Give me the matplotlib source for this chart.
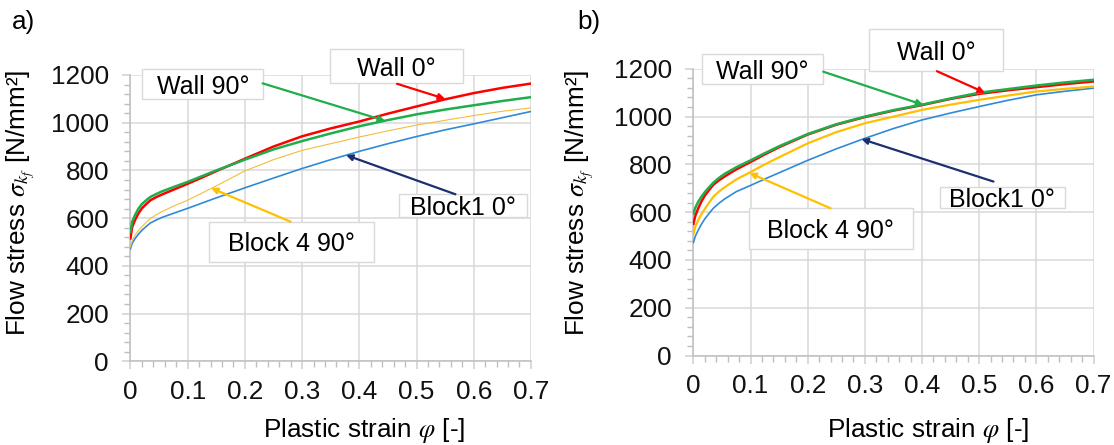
import matplotlib.pyplot as plt
from matplotlib.patches import Rectangle
from matplotlib.ticker import MultipleLocator

plt.rcParams["font.family"] = ["Liberation Sans", "DejaVu Sans"]
plt.rcParams["mathtext.fontset"] = "stix"

# Data

strain = [0, 0.003, 0.008, 0.014, 0.02, 0.028, 0.035, 0.045, 0.055, 0.075,
          0.1, 0.125, 0.15, 0.2, 0.25, 0.3, 0.35, 0.4, 0.45, 0.5,
          0.55, 0.6, 0.65, 0.7]

a_wall0 = [515, 562, 592, 620, 641, 660, 675, 688, 699, 719,
           744, 770, 797, 849, 900, 943, 976, 1005, 1038, 1068,
           1098, 1124, 1146, 1164]
a_wall90 = [542, 585, 613, 640, 659, 676, 689, 701, 712, 730,
            752, 776, 800, 845, 888, 923, 955, 985, 1011, 1035,
            1055, 1073, 1091, 1107]
a_block4 = [479, 505, 528, 548, 564, 583, 599, 614, 627, 650,
            675, 705, 735, 798, 845, 884, 912, 940, 966, 990,
            1010, 1030, 1048, 1062]
a_block1 = [472, 494, 514, 533, 549, 566, 580, 592, 603, 620,
            641, 663, 685, 727, 768, 808, 845, 880, 912, 942,
            970, 995, 1021, 1047]

b_wall0 = [551, 583, 614, 645, 670, 695, 715, 734, 750, 779,
           810, 842, 872, 925, 966, 998, 1025, 1048, 1074, 1095,
           1110, 1123, 1136, 1147]
b_wall90 = [593, 617, 642, 665, 684, 706, 724, 744, 761, 788,
            817, 847, 876, 927, 968, 1000, 1027, 1050, 1076, 1100,
            1115, 1130, 1143, 1154]
b_block4 = [509, 538, 565, 592, 614, 642, 665, 687, 705, 737,
            768, 800, 830, 888, 935, 972, 1000, 1028, 1050, 1070,
            1088, 1105, 1116, 1126]
b_block1 = [473, 498, 523, 550, 572, 597, 617, 638, 656, 686,
            712, 739, 765, 817, 865, 909, 950, 986, 1015, 1042,
            1068, 1091, 1106, 1119]

x_ticks = [0, 0.1, 0.2, 0.3, 0.4, 0.5, 0.6, 0.7]
x_tick_labels = ["0", "0.1", "0.2", "0.3", "0.4", "0.5", "0.6", "0.7"]
y_ticks = [0, 200, 400, 600, 800, 1000, 1200]

RED = "#ff0000"
GREEN = "#1fae4b"
YELLOW = "#ffc000"
BLUE = "#2f8ad8"
NAVY = "#1c2f6e"

FS = 18.8      # ticks and axis titles
FS_BOX = 18    # callout text


def style_axes(ax):
    ax.set_xlim(0, 0.7)
    ax.set_ylim(0, 1200)
    ax.set_xticks(x_ticks)
    ax.set_xticklabels(x_tick_labels)
    ax.set_yticks(y_ticks)
    ax.xaxis.set_minor_locator(MultipleLocator(0.02))
    ax.yaxis.set_minor_locator(MultipleLocator(40))
    ax.grid(which="major", color="#d9d9d9", lw=1.1, zorder=0)
    ax.set_axisbelow(True)
    for s in ("top", "right"):
        ax.spines[s].set_visible(False)
    for s in ("left", "bottom"):
        ax.spines[s].set_color("#bfbfbf")
        ax.spines[s].set_linewidth(1.1)
    ax.tick_params(which="major", length=5.5, width=1.1, color="#d0d0d0",
                   labelsize=FS, labelcolor="#111111")
    ax.tick_params(axis="x", which="major", pad=8)
    ax.tick_params(axis="y", which="major", pad=10)
    ax.tick_params(which="minor", length=4, width=1, color="#bfbfbf")
    ax.set_xlabel(r"Plastic strain $\varphi$ [-]", fontsize=FS)
    ax.set_ylabel(r"Flow stress $\sigma_{k_f}$ [N/mm²]", fontsize=FS)


def callout(ax, text, box, start, tip, color):
    x0, y0, x1, y1 = box
    ax.add_patch(Rectangle((x0, y0), x1 - x0, y1 - y0, facecolor="white",
                           edgecolor="#d9d9d9", lw=1, clip_on=False, zorder=4))
    ax.text((x0 + x1) / 2, (y0 + y1) / 2, text, ha="center",
            va="center_baseline", fontsize=FS_BOX, zorder=5, clip_on=False)
    ax.annotate("", xy=tip, xytext=start, annotation_clip=False, zorder=6,
                arrowprops=dict(arrowstyle="-|>", color=color, lw=1.6,
                                mutation_scale=9, shrinkA=0, shrinkB=0))


fig = plt.figure(figsize=(11.14, 4.45), dpi=100)
ax_a = fig.add_axes([0.1171, 0.1881, 0.3595, 0.6434])
ax_b = fig.add_axes([0.6225, 0.2011, 0.3591, 0.6443])

# panel a
style_axes(ax_a)
ax_a.plot(strain, a_block1, color=BLUE, lw=1.2, zorder=3)
ax_a.plot(strain, a_block4, color="#f3bd3a", lw=0.8, zorder=3)
ax_a.plot(strain, a_wall0, color=RED, lw=1.8, zorder=3)
ax_a.plot(strain, a_wall90, color=GREEN, lw=1.8, zorder=3)
ax_a.yaxis.set_label_coords(-0.233, 0.553)
ax_a.xaxis.set_label_coords(0.583, -0.19)

callout(ax_a, "Wall 0°", (0.349, 1165, 0.582, 1308), (0.466, 1163), (0.550, 1100), RED)
callout(ax_a, "Wall 90°", (0.021, 1098, 0.232, 1224), (0.231, 1165), (0.445, 1008), GREEN)
callout(ax_a, "Block1 0°", (0.469, 603, 0.694, 701), (0.568, 700), (0.377, 864), NAVY)
callout(ax_a, "Block 4 90°", (0.138, 415, 0.426, 585), (0.280, 585), (0.141, 726), YELLOW)

# panel b
style_axes(ax_b)
ax_b.plot(strain, b_block1, color=BLUE, lw=1.2, zorder=3)
ax_b.plot(strain, b_block4, color=YELLOW, lw=1.6, zorder=3)
ax_b.plot(strain, b_wall0, color=RED, lw=1.8, zorder=3)
ax_b.plot(strain, b_wall90, color=GREEN, lw=1.8, zorder=3)
ax_b.yaxis.set_label_coords(-0.244, 0.532)
ax_b.xaxis.set_label_coords(0.586, -0.21)

callout(ax_b, "Wall 0°", (0.308, 1192, 0.542, 1365), (0.426, 1190), (0.510, 1100), RED)
callout(ax_b, "Wall 90°", (0.015, 1137, 0.226, 1261), (0.227, 1188), (0.402, 1049), GREEN)
callout(ax_b, "Block1 0°", (0.431, 616, 0.650, 707), (0.525, 728), (0.294, 906), NAVY)
callout(ax_b, "Block 4 90°", (0.097, 445, 0.384, 619), (0.240, 616), (0.098, 764), YELLOW)

fig.text(12 / 1114, 1 - 10 / 445, "a)", fontsize=FS, va="top", ha="left")
fig.text(577 / 1114, 1 - 10 / 445, "b)", fontsize=FS, va="top", ha="left")

fig.savefig("out.png", dpi=100)
plt.close()
